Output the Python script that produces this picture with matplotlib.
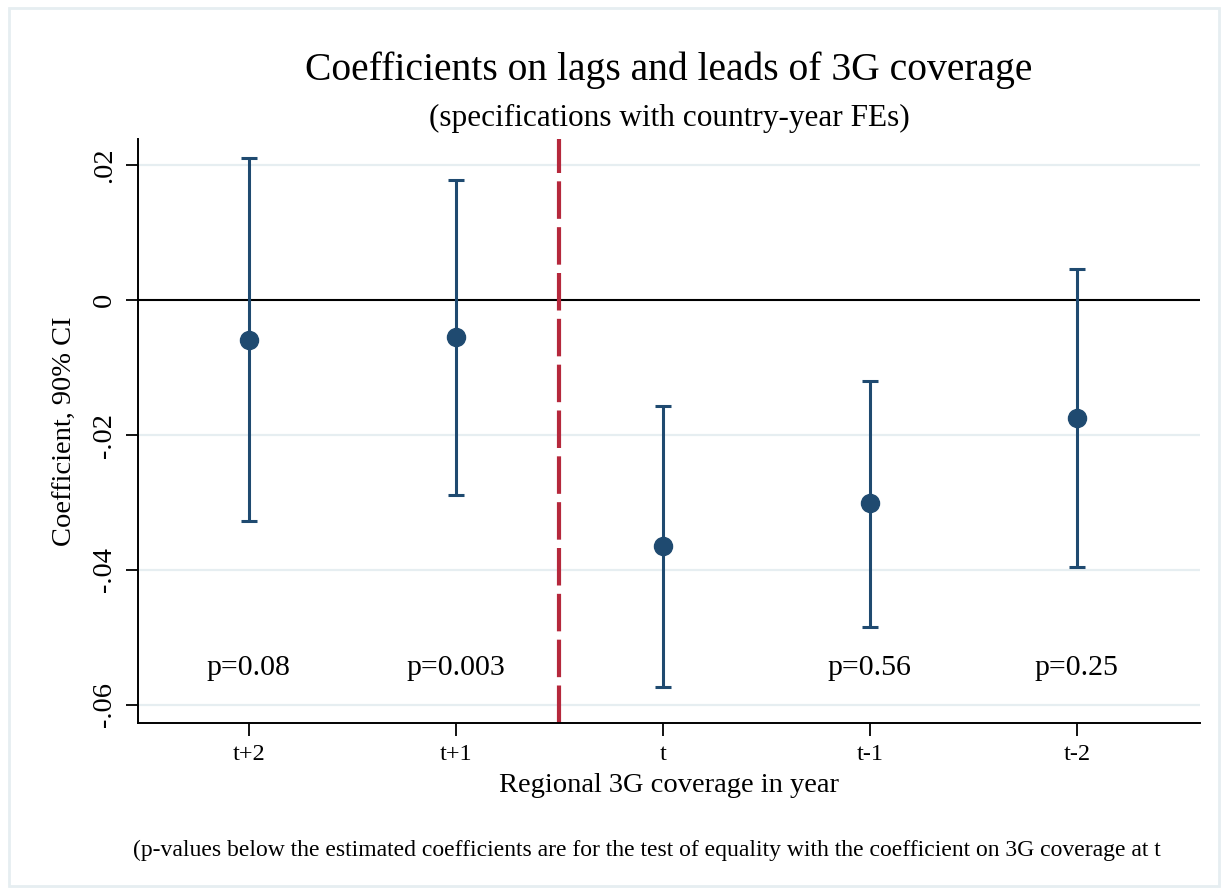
import numpy as np
import matplotlib
matplotlib.use("Agg")
import matplotlib.pyplot as plt
from matplotlib.patches import Rectangle

# data
periods = ["t+2", "t+1", "t", "t-1", "t-2"]
coef = [-0.0059, -0.0055, -0.0365, -0.0301, -0.0174]
ci_low = [-0.0328, -0.0289, -0.0573, -0.0485, -0.0395]
ci_high = [0.0211, 0.0178, -0.0157, -0.0120, 0.0046]
pvals = ["p=0.08", "p=0.003", "", "p=0.56", "p=0.25"]
yticks = [0.02, 0.0, -0.02, -0.04, -0.06]
ytick_labels = [".02", "0", "-.02", "-.04", "-.06"]

plt.rcParams['font.family'] = ['Liberation Serif', 'DejaVu Serif']

navy = "#1f4a70"
red = "#b5283c"
grid_c = "#e6eef1"

fig = plt.figure(figsize=(12.28, 8.94), dpi=100)
ax = fig.add_axes([0.1124, 0.1913, 0.8648, 0.6532])

x = np.arange(1, len(periods) + 1)
coef_a = np.array(coef)
err = [coef_a - np.array(ci_low), np.array(ci_high) - coef_a]

for yv in yticks:
    if yv != 0:
        ax.axhline(yv, color=grid_c, lw=1.6, zorder=0)
ax.axhline(0, color="black", lw=1.5, zorder=1)
ax.axvline(2.5, color=red, lw=3, dashes=(9, 2), zorder=2)

ax.errorbar(x, coef, yerr=err, fmt="o", color=navy, ms=13, elinewidth=2.2,
            capsize=6, capthick=2.2, zorder=3)

for xi, txt in zip(x, pvals):
    if txt:
        ax.text(xi, -0.0545, txt, ha="center", va="center", fontsize=21.5)

ax.set_xlim(0.465, 5.595)
ax.set_ylim(-0.0627, 0.0239)
ax.set_xticks(x)
ax.set_xticklabels(periods, fontsize=17.5)
ax.set_yticks(yticks)
ax.set_yticklabels(ytick_labels, fontsize=20.5, rotation=90, va="center")
ax.tick_params(axis="both", length=9, width=1.3, direction="out")
ax.tick_params(axis="x", pad=6)
ax.tick_params(axis="y", pad=6)

for s in ["top", "right"]:
    ax.spines[s].set_visible(False)
for s in ["left", "bottom"]:
    ax.spines[s].set_linewidth(1.4)

ax.set_ylabel("Coefficient, 90% CI", fontsize=20.5, labelpad=10)
ax.set_xlabel("Regional 3G coverage in year", fontsize=20.5, labelpad=6)

fig.text(0.5448, 0.921, "Coefficients on lags and leads of 3G coverage",
         ha="center", va="center", fontsize=28.5)
fig.text(0.5448, 0.868, "(specifications with country-year FEs)",
         ha="center", va="center", fontsize=22.5)
fig.text(0.108, 0.049, "(p-values below the estimated coefficients are for the test of equality with the coefficient on 3G coverage at t",
         ha="left", va="center", fontsize=17)

fig.patches.append(Rectangle((0.007, 0.009), 0.986, 0.982, transform=fig.transFigure,
                             fill=False, edgecolor=grid_c, lw=2))

fig.savefig("out.png", dpi=100)
